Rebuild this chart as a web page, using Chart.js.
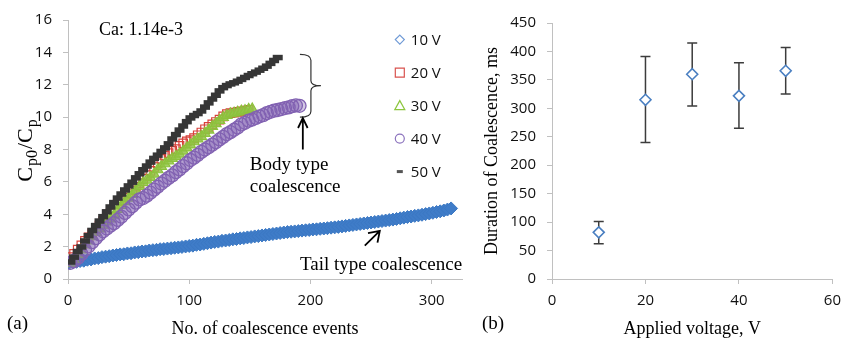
<!DOCTYPE html>
<html><head><meta charset="utf-8">
<script src="https://cdn.jsdelivr.net/npm/chart.js@4.4.1/dist/chart.umd.min.js"></script>
<style>
html,body{margin:0;padding:0;background:#fff;}
#wrap{position:relative;width:849px;height:343px;overflow:hidden;background:#fff;}
#c1{position:absolute;left:0;top:0;width:480px;height:343px;}
#c2{position:absolute;left:480px;top:0;width:369px;height:343px;}
</style></head><body>
<div id="wrap"><canvas id="c1" width="480" height="343"></canvas><canvas id="c2" width="369" height="343"></canvas></div>
<script>
// ---------- Panel (a) data ----------
const seriesLabels = ['10 V', '20 V', '30 V', '40 V', '50 V'];

const events10V = [1,4,7,10,13,16,19,22,25,28,31,34,37,40,43,46,49,52,55,58,61,64,67,70,73,76,79,82,85,88,91,94,97,100,103,106,109,112,115,118,121,124,127,130,133,136,139,142,145,148,151,154,157,160,163,166,169,172,175,178,181,184,187,190,193,196,199,202,205,208,211,214,217,220,223,226,229,232,235,238,241,244,247,250,253,256,259,262,265,268,271,274,277,280,283,286,289,292,295,298,301,304,307,310,313,316];
const ratio10V = [1.00,1.04,1.06,1.11,1.13,1.19,1.21,1.27,1.29,1.35,1.38,1.41,1.45,1.48,1.52,1.53,1.58,1.59,1.64,1.66,1.70,1.71,1.76,1.78,1.80,1.84,1.85,1.88,1.90,1.93,1.95,1.98,2.01,2.04,2.06,2.11,2.13,2.17,2.21,2.25,2.29,2.31,2.36,2.38,2.41,2.45,2.47,2.51,2.53,2.57,2.59,2.63,2.65,2.69,2.72,2.75,2.78,2.81,2.84,2.87,2.90,2.92,2.94,2.96,2.99,3.01,3.03,3.06,3.07,3.10,3.12,3.14,3.17,3.19,3.22,3.25,3.28,3.31,3.34,3.37,3.40,3.43,3.46,3.49,3.52,3.55,3.58,3.61,3.64,3.67,3.71,3.75,3.79,3.83,3.86,3.90,3.93,3.97,4.01,4.05,4.09,4.14,4.18,4.23,4.29,4.36];

const events20V = [2,5,8,11,14,17,20,23,26,29,32,35,38,41,44,47,50,53,56,59,62,65,68,71,74,77,80,83,86,89,92,95,98,101,104,107,110,113,116,119,122,125,128,131,134,137,140,143,146,149];
const ratio20V = [1.35,1.55,1.82,2.08,2.35,2.58,2.82,3.08,3.30,3.58,3.80,4.05,4.35,4.62,4.82,5.02,5.25,5.48,5.70,5.92,6.20,6.42,6.68,6.92,7.15,7.42,7.62,7.78,7.92,8.02,8.22,8.38,8.50,8.58,8.70,8.88,9.05,9.25,9.40,9.55,9.70,9.85,10.05,10.18,10.25,10.28,10.33,10.36,10.40,10.45];

const events30V = [2,5,8,11,14,17,20,23,26,29,32,35,38,41,44,47,50,53,56,59,62,65,68,71,74,77,80,83,86,89,92,95,98,101,104,107,110,113,116,119,122,125,128,131,134,137,140,143,146,149,152];
const ratio30V = [0.95,1.20,1.50,1.80,2.10,2.35,2.62,2.88,3.10,3.32,3.52,3.72,3.95,4.30,4.55,4.78,5.00,5.22,5.48,5.72,5.95,6.10,6.28,6.48,6.75,6.95,7.12,7.30,7.45,7.58,7.72,7.90,8.10,8.28,8.48,8.65,8.80,9.00,9.20,9.42,9.60,9.80,9.98,10.10,10.20,10.25,10.30,10.37,10.40,10.48,10.50];

const events40V = [2,5,8,11,14,17,20,23,26,29,32,35,38,41,44,47,50,53,56,59,62,65,68,71,74,77,80,83,86,89,92,95,98,101,104,107,110,113,116,119,122,125,128,131,134,137,140,143,146,149,152,155,158,161,164,167,170,173,176,179,182,185,188,191];
const ratio40V = [1.00,1.10,1.30,1.55,1.80,2.02,2.28,2.52,2.75,2.95,3.12,3.30,3.45,3.65,3.85,4.08,4.30,4.50,4.72,4.92,5.00,5.15,5.33,5.52,5.70,5.90,6.07,6.25,6.40,6.60,6.77,6.97,7.15,7.35,7.50,7.67,7.85,8.00,8.15,8.30,8.45,8.62,8.78,8.95,9.07,9.22,9.36,9.55,9.65,9.78,9.85,9.95,10.05,10.12,10.25,10.33,10.40,10.44,10.50,10.56,10.60,10.68,10.72,10.70];

const events50V = [2,5,8,11,14,17,20,23,26,29,32,35,38,41,44,47,50,53,56,59,62,65,68,71,74,77,80,83,86,89,92,95,98,101,104,107,110,113,116,119,122,125,128,131,134,137,140,143,146,149,152,155,158,161,164,167,170,173];
const ratio50V = [1.05,1.35,1.70,1.98,2.35,2.68,3.00,3.30,3.58,3.85,4.15,4.45,4.72,5.00,5.25,5.50,5.75,5.98,6.25,6.50,6.75,6.98,7.22,7.45,7.65,7.88,8.10,8.35,8.65,8.92,9.20,9.45,9.72,9.95,10.10,10.22,10.38,10.62,10.88,11.12,11.35,11.62,11.82,11.95,12.05,12.12,12.22,12.33,12.45,12.57,12.68,12.78,12.90,13.02,13.15,13.32,13.50,13.68];

const xTicksA = [0, 100, 200, 300];
const yTicksA = [0, 2, 4, 6, 8, 10, 12, 14, 16];

// ---------- Panel (b) data ----------
const voltage = [10, 20, 30, 40, 50];
const duration = [82, 315, 360, 322, 366];
const durationLow = [62, 240, 304, 265, 325];
const durationHigh = [101, 391, 415, 380, 407];
const xTicksB = [0, 20, 40, 60];
const yTicksB = [0, 50, 100, 150, 200, 250, 300, 350, 400, 450];

// ---------- helpers ----------
function pairs(xs, ys) { return xs.map((x, i) => ({ x: x, y: ys[i] })); }
const SANS = 'Open Sans';
const SERIF = 'Liberation Serif';
const AXIS_COLOR = '#c0c0c0';
function gridOpts() { return { display: true, drawOnChartArea: false, drawTicks: true, tickLength: 5, color: AXIS_COLOR, lineWidth: 1 }; }
function borderOpts() { return { display: true, color: AXIS_COLOR, width: 1 }; }
function tickOpts(pad) { return { color: '#111', font: { family: SANS, size: 15 }, padding: pad }; }

function drawMarker(ctx, style, x, y, r) {
  if (style === 'dash') { ctx.fillRect(x - r, y - 1.5, 2 * r, 3); return; }
  ctx.beginPath();
  if (style === 'diamond') { ctx.moveTo(x, y - r); ctx.lineTo(x + r, y); ctx.lineTo(x, y + r); ctx.lineTo(x - r, y); ctx.closePath(); }
  else if (style === 'square') { ctx.rect(x - r, y - r, 2 * r, 2 * r); }
  else if (style === 'triangle') { ctx.moveTo(x, y - r); ctx.lineTo(x + r, y + r * 0.8); ctx.lineTo(x - r, y + r * 0.8); ctx.closePath(); }
  else if (style === 'circle') { ctx.arc(x, y, r, 0, Math.PI * 2); }
  ctx.fill(); ctx.stroke();
}

const legendStylesA = [
  { style: 'diamond', color: '#6f9ad6', r: 4.5 },
  { style: 'square', color: '#d9534f', r: 4.5 },
  { style: 'triangle', color: '#8dc63f', r: 5 },
  { style: 'circle', color: '#8b72bd', r: 4.5 },
  { style: 'dash', color: '#555555', r: 3 }
];

function arrow(ctx, x0, y0, x1, y1, len, ang) {
  ctx.beginPath(); ctx.moveTo(x0, y0); ctx.lineTo(x1, y1);
  const a = Math.atan2(y0 - y1, x0 - x1);
  ctx.moveTo(x1 + len * Math.cos(a + ang), y1 + len * Math.sin(a + ang));
  ctx.lineTo(x1, y1);
  ctx.lineTo(x1 + len * Math.cos(a - ang), y1 + len * Math.sin(a - ang));
  ctx.stroke();
}

const annotA = {
  id: 'annotA',
  afterDraw(chart) {
    const ctx = chart.ctx, xs = chart.scales.x, ys = chart.scales.y;
    const X = v => xs.getPixelForValue(v), Y = v => ys.getPixelForValue(v);
    ctx.save();
    ctx.fillStyle = '#000'; ctx.textBaseline = 'middle'; ctx.textAlign = 'left';
    ctx.font = '18px "' + SERIF + '"';
    ctx.fillText('Ca: 1.14e-3', X(25.6), Y(15.35));
    ctx.font = '19px "' + SERIF + '"';
    ctx.fillText('Body type', X(150), Y(7.03));
    ctx.fillText('coalescence', X(150), Y(5.70));
    ctx.fillText('Tail type coalescence', X(191.3), Y(0.85));
    // brace
    const bx = X(191.3), by0 = Y(13.88), by1 = Y(10.0), bm = (by0 + by1) / 2;
    ctx.strokeStyle = '#333'; ctx.lineWidth = 1.2;
    ctx.beginPath();
    ctx.moveTo(bx, by0);
    ctx.quadraticCurveTo(bx + 11, by0, bx + 11, by0 + 6);
    ctx.lineTo(bx + 11, bm - 5);
    ctx.quadraticCurveTo(bx + 11, bm, bx + 21, bm);
    ctx.quadraticCurveTo(bx + 11, bm, bx + 11, bm + 5);
    ctx.lineTo(bx + 11, by1 - 6);
    ctx.quadraticCurveTo(bx + 11, by1, bx, by1);
    ctx.stroke();
    // arrows
    ctx.strokeStyle = '#000'; ctx.lineWidth = 1.8;
    arrow(ctx, X(193.7), Y(8.0), X(193.7), Y(9.94), 11, 0.45);
    arrow(ctx, X(244.8), Y(2.06), X(257.2), Y(2.97), 12, 0.6);
    // legend
    const lx = X(273.7), ly = Y(14.79), step = 33;
    ctx.font = '15px "' + SANS + '"';
    seriesLabels.forEach((lab, i) => {
      const s = legendStylesA[i];
      const yy = ly + i * step;
      ctx.fillStyle = s.style === 'dash' ? s.color : '#fff';
      ctx.strokeStyle = s.color; ctx.lineWidth = 1.2;
      drawMarker(ctx, s.style, lx, yy, s.r);
      ctx.fillStyle = '#111';
      ctx.fillText(lab, lx + 11, yy + 1);
    });
    // y axis title C_p0/C_p
    ctx.save();
    ctx.translate(25, 150); ctx.rotate(-Math.PI / 2);
    const parts = [['C', 22, 0], ['p0', 16, 5], ['/C', 22, 0], ['p', 16, 5]];
    let total = 0;
    parts.forEach(p => { ctx.font = p[1] + 'px "' + SERIF + '"'; total += ctx.measureText(p[0]).width + 1; });
    let cx = -total / 2;
    ctx.fillStyle = '#000'; ctx.textAlign = 'left'; ctx.textBaseline = 'alphabetic';
    parts.forEach(p => { ctx.font = p[1] + 'px "' + SERIF + '"'; ctx.fillText(p[0], cx, 7 + p[2]); cx += ctx.measureText(p[0]).width + 1; });
    ctx.restore();
    // panel label
    ctx.font = '19px "' + SERIF + '"'; ctx.fillStyle = '#000'; ctx.textBaseline = 'middle';
    ctx.fillText('(a)', 7, 324);
    ctx.restore();
  }
};

new Chart(document.getElementById('c1'), {
  type: 'scatter',
  data: {
    datasets: [
      { label: seriesLabels[0], data: pairs(events10V, ratio10V), pointStyle: 'rectRot', pointRadius: 6.5, pointBorderWidth: 1, pointBorderColor: '#3b78c3', pointBackgroundColor: '#3f7cc8', order: 5 },
      { label: seriesLabels[1], data: pairs(events20V, ratio20V), pointStyle: 'rect', pointRadius: 6, pointBorderWidth: 1.2, pointBorderColor: '#d8403a', pointBackgroundColor: 'rgba(255,255,255,0)', order: 4 },
      { label: seriesLabels[2], data: pairs(events30V, ratio30V), pointStyle: 'triangle', pointRadius: 6, pointBorderWidth: 1.2, pointBorderColor: '#8cc23c', pointBackgroundColor: 'rgba(146,196,70,0.85)', order: 3 },
      { label: seriesLabels[3], data: pairs(events40V, ratio40V), pointStyle: 'circle', pointRadius: 6.5, pointBorderWidth: 1.3, pointBorderColor: '#8262b2', pointBackgroundColor: 'rgba(130,98,178,0.35)', order: 2 },
      { label: seriesLabels[4], data: pairs(events50V, ratio50V), pointStyle: 'line', pointRadius: 5, pointBorderWidth: 5.5, pointBorderColor: '#363636', pointBackgroundColor: '#363636', order: 1 }
    ]
  },
  options: {
    responsive: false, animation: false, events: [],
    layout: { padding: { left: 0, right: 18, top: 15, bottom: 0 } },
    plugins: { legend: { display: false }, tooltip: { enabled: false } },
    scales: {
      x: {
        type: 'linear', min: 0, max: 325,
        afterBuildTicks: s => { s.ticks = xTicksA.map(v => ({ value: v })); },
        afterFit: s => { s.height = 64; },
        grid: gridOpts(), border: borderOpts(), ticks: tickOpts(8),
        title: { display: true, text: 'No. of coalescence events', color: '#000', font: { family: SERIF, size: 18 }, padding: { top: 0, bottom: 3 } }
      },
      y: {
        type: 'linear', min: 0, max: 16,
        afterBuildTicks: s => { s.ticks = yTicksA.map(v => ({ value: v })); },
        afterFit: s => { s.width = 68; },
        grid: gridOpts(), border: borderOpts(), ticks: tickOpts(11)
      }
    }
  },
  plugins: [annotA]
});

// ---------- Panel (b) ----------
const errorBars = {
  id: 'errorBars',
  beforeDatasetsDraw(chart) {
    const ctx = chart.ctx, xs = chart.scales.x, ys = chart.scales.y;
    ctx.save(); ctx.strokeStyle = '#3c3c3c'; ctx.lineWidth = 1.5;
    voltage.forEach((v, i) => {
      const px = xs.getPixelForValue(v), lo = ys.getPixelForValue(durationLow[i]), hi = ys.getPixelForValue(durationHigh[i]);
      ctx.beginPath();
      ctx.moveTo(px, lo); ctx.lineTo(px, hi);
      ctx.moveTo(px - 5, lo); ctx.lineTo(px + 5, lo);
      ctx.moveTo(px - 5, hi); ctx.lineTo(px + 5, hi);
      ctx.stroke();
    });
    ctx.restore();
  },
  afterDraw(chart) {
    const ctx = chart.ctx;
    ctx.save(); ctx.font = '19px "' + SERIF + '"'; ctx.fillStyle = '#000'; ctx.textBaseline = 'middle'; ctx.textAlign = 'left';
    ctx.fillText('(b)', 2, 324);
    ctx.restore();
  }
};

new Chart(document.getElementById('c2'), {
  type: 'scatter',
  data: {
    datasets: [{ label: 'Duration of Coalescence', data: pairs(voltage, duration), pointStyle: 'rectRot', pointRadius: 5.5, pointBorderWidth: 1.6, pointBorderColor: '#4a7fc1', pointBackgroundColor: '#ffffff' }]
  },
  options: {
    responsive: false, animation: false, events: [],
    layout: { padding: { left: 0, right: 12, top: 23, bottom: 0 } },
    plugins: { legend: { display: false }, tooltip: { enabled: false } },
    scales: {
      x: {
        type: 'linear', min: 0, max: 60,
        afterBuildTicks: s => { s.ticks = xTicksB.map(v => ({ value: v })); },
        afterFit: s => { s.height = 64; },
        grid: gridOpts(), border: borderOpts(), ticks: tickOpts(8),
        title: { display: true, text: 'Applied voltage, V', color: '#000', font: { family: SERIF, size: 18 }, padding: { top: 0, bottom: 3 } }
      },
      y: {
        type: 'linear', min: 0, max: 450,
        afterBuildTicks: s => { s.ticks = yTicksB.map(v => ({ value: v })); },
        afterFit: s => { s.width = 72; },
        grid: gridOpts(), border: borderOpts(), ticks: tickOpts(11),
        title: { display: true, text: 'Duration of Coalescence, ms', color: '#000', font: { family: SERIF, size: 18 }, padding: { top: 1, bottom: 0 } }
      }
    }
  },
  plugins: [errorBars]
});
</script>
</body></html>
